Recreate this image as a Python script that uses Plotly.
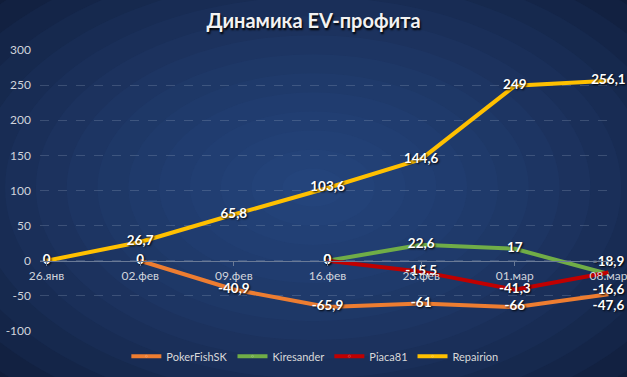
import plotly.graph_objects as go

dates = ["26.янв", "02.фев", "09.фев", "16.фев", "23.фев", "01.мар", "08.мар"]
poker = [None, 0, -40.9, -65.9, -61, -66, -47.6]
kires = [None, None, None, 0, 22.6, 17, -18.9]
piaca = [None, None, None, 0, -15.5, -41.3, -16.6]
repair = [0, 26.7, 65.8, 103.6, 144.6, 249, 256.1]
y_ticks = [-100, -50, 0, 50, 100, 150, 200, 250, 300]


def fmt(v):
    if v is None:
        return ""
    s = ("%g" % v).replace(".", ",")
    return s


fig = go.Figure()

series = [
    ("PokerFishSK", poker, "#ED7D31", ["middle center"] * 6 + ["bottom center"], [0] * 6 + [8]),
    ("Kiresander", kires, "#70AD47", ["middle center"] * 6 + ["top center"], [0] * 6 + [6]),
    ("Piaca81", piaca, "#C00000", ["middle center"] * 6 + ["bottom center"], [0] * 6 + [16]),
    ("Repairion", repair, "#FFC000", ["middle center"] * 7, [0] * 7),
]

for name, vals, color, pos, msize in series:
    fig.add_trace(go.Scatter(
        x=dates, y=vals, name=name, mode="lines+markers+text",
        line=dict(color=color, width=4),
        marker=dict(size=msize, opacity=0, color=color),
        text=[fmt(v) for v in vals],
        textposition=pos,
        textfont=dict(family="Lato, Open Sans, sans-serif", size=13.5, color="white",
                      weight="bold", shadow="1px 1px 2px #000"),
        cliponaxis=False,
    ))

# background radial gradient approximation
shapes = []
n = 14
for i in range(n):
    f = 1 - i / n
    shapes.append(dict(
        type="circle", xref="paper", yref="paper", layer="below",
        x0=0.475 - 0.75 * f, x1=0.475 + 0.75 * f,
        y0=0.51 - 0.95 * f, y1=0.51 + 0.95 * f,
        fillcolor="rgba(60,100,165,0.075)", line=dict(width=0),
    ))

fig.update_layout(
    width=627, height=377,
    margin=dict(l=40, r=12, t=50, b=46, autoexpand=False),
    paper_bgcolor="#101d3a",
    plot_bgcolor="rgba(0,0,0,0)",
    shapes=shapes,
    title=dict(text="<b>Динамика EV-профита</b>", x=0.5, xanchor="center",
               y=0.945, yanchor="middle",
               font=dict(family="Lato, Open Sans, sans-serif", size=20, color="#f2f2f2",
                         shadow="1px 2px 2px #000")),
    showlegend=True,
    legend=dict(orientation="h", x=0.478, xanchor="center",
                y=-0.09, yanchor="middle",
                font=dict(family="Lato, Open Sans, sans-serif", size=11, color="#d9d9d9"),
                bgcolor="rgba(0,0,0,0)", itemwidth=30, tracegroupgap=0),
    xaxis=dict(
        type="category", range=[-0.07, 6.07],
        anchor="free", position=0.25,
        showline=True, linecolor="#6a7a96", linewidth=1,
        ticks="outside", ticklen=4, tickcolor="#6a7a96",
        showgrid=False, zeroline=False,
        tickfont=dict(family="Lato, Open Sans, sans-serif", size=12, color="#d0d4dc"),
    ),
    yaxis=dict(
        range=[-100, 300], tickvals=y_ticks, ticktext=[str(v) for v in y_ticks],
        showgrid=True, gridcolor="rgba(160,175,200,0.25)", griddash="dash", gridwidth=1,
        zeroline=False, showline=False, ticks="",
        tickfont=dict(family="Lato, Open Sans, sans-serif", size=12, color="#d0d4dc"),
        ticklabelstandoff=8,
    ),
)

fig.write_html("out.html", config={"displayModeBar": False},
               post_script="document.body.style.margin='0';")
